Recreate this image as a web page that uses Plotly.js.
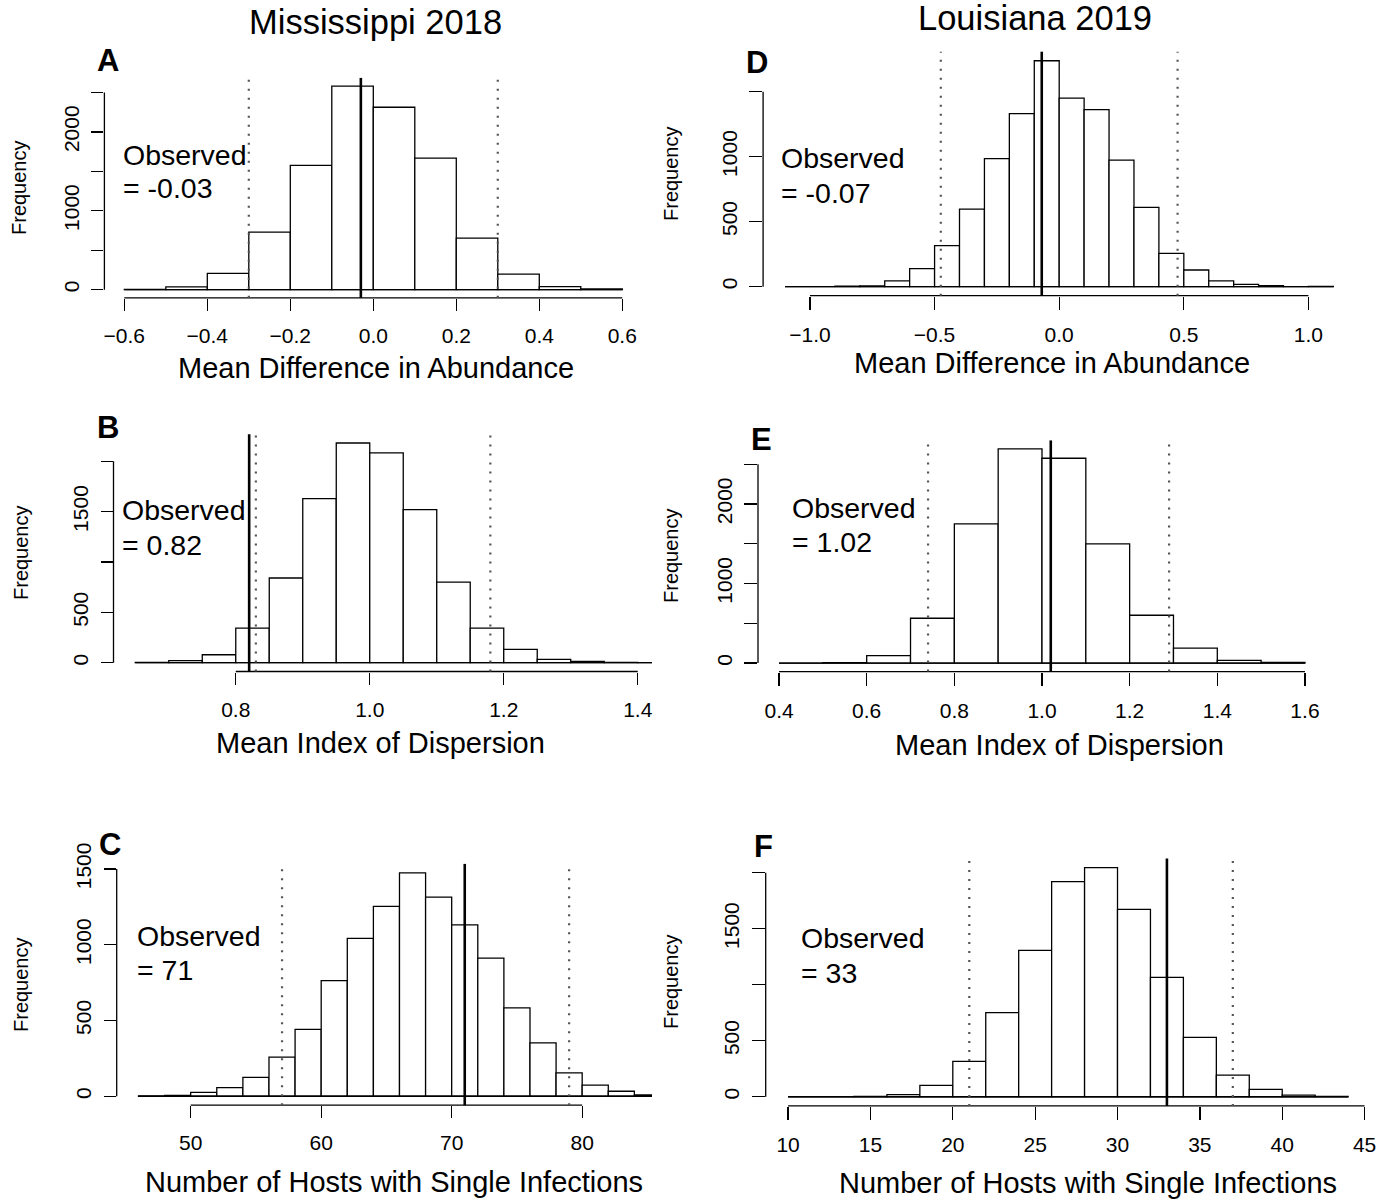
<!DOCTYPE html>
<html><head><meta charset="utf-8">
<script src="https://cdn.plot.ly/plotly-3.0.1.min.js"></script>
<style>html,body{margin:0;padding:0;background:#fff}</style>
</head><body>
<div id="chart" style="width:1390px;height:1200px"></div>
<script>
// ---------------- data ----------------
// A: Mississippi 2018, mean difference in abundance
const breaksA = [-0.6,-0.5,-0.4,-0.3,-0.2,-0.1,0.0,0.1,0.2,0.3,0.4,0.5,0.6];
const countsA = [3,34,206,728,1575,2581,2312,1667,653,198,38,8];
const observedA = -0.03;
const limitsA = [-0.30, 0.30];
const xTicksA = [-0.6,-0.4,-0.2,0,0.2,0.4,0.6];
const xLabelsA = ['\u22120.6','\u22120.4','\u22120.2','0.0','0.2','0.4','0.6'];
const yTicksA = [0,500,1000,1500,2000,2500];
const yLabelsA = ['0','','1000','','2000',''];

// B: Mississippi 2018, mean index of dispersion
const breaksB = [0.65,0.70,0.75,0.80,0.85,0.90,0.95,1.00,1.05,1.10,1.15,1.20,1.25,1.30,1.35,1.40,1.45];
const countsB = [3,20,79,344,841,1629,2182,2083,1520,801,344,132,33,12,3,1];
const observedB = 0.82;
const limitsB = [0.83, 1.18];
const xTicksB = [0.8,1.0,1.2,1.4];
const xLabelsB = ['0.8','1.0','1.2','1.4'];
const yTicksB = [0,500,1000,1500,2000];
const yLabelsB = ['0','500','','1500',''];

// C: Mississippi 2018, number of hosts with single infections
const breaksC = [46,48,50,52,54,56,58,60,62,64,66,68,70,72,74,76,78,80,82,84,86];
const countsC = [2,5,26,57,125,258,442,764,1042,1254,1475,1315,1131,912,584,352,155,74,33,9];
const observedC = 71;
const limitsC = [57, 79];
const xTicksC = [50,60,70,80];
const xLabelsC = ['50','60','70','80'];
const yTicksC = [0,500,1000,1500];
const yLabelsC = ['0','500','1000','1500'];

// D: Louisiana 2019, mean difference in abundance
const breaksD = [-1.1,-1.0,-0.9,-0.8,-0.7,-0.6,-0.5,-0.4,-0.3,-0.2,-0.1,0.0,0.1,0.2,0.3,0.4,0.5,0.6,0.7,0.8,0.9,1.0,1.1];
const countsD = [0,0,3,5,45,138,315,597,985,1331,1738,1451,1362,974,610,256,128,44,18,7,1,2];
const observedD = -0.07;
const limitsD = [-0.475, 0.475];
const xTicksD = [-1.0,-0.5,0,0.5,1.0];
const xLabelsD = ['\u22121.0','\u22120.5','0.0','0.5','1.0'];
const yTicksD = [0,500,1000,1500];
const yLabelsD = ['0','500','1000',''];

// E: Louisiana 2019, mean index of dispersion
const breaksE = [0.4,0.5,0.6,0.7,0.8,0.9,1.0,1.1,1.2,1.3,1.4,1.5,1.6];
const countsE = [0,5,92,563,1749,2692,2575,1498,601,188,33,8];
const observedE = 1.02;
const limitsE = [0.74, 1.29];
const xTicksE = [0.4,0.6,0.8,1.0,1.2,1.4,1.6];
const xLabelsE = ['0.4','0.6','0.8','1.0','1.2','1.4','1.6'];
const yTicksE = [0,500,1000,1500,2000,2500];
const yLabelsE = ['0','','1000','','2000',''];

// F: Louisiana 2019, number of hosts with single infections
const breaksF = [10,12,14,16,18,20,22,24,26,28,30,32,34,36,38,40,42,44];
const countsF = [0,0,3,18,101,315,750,1307,1920,2045,1673,1065,530,193,65,15,2];
const observedF = 33;
const limitsF = [21, 37];
const xTicksF = [10,15,20,25,30,35,40,45];
const xLabelsF = ['10','15','20','25','30','35','40','45'];
const yTicksF = [0,500,1000,1500,2000];
const yLabelsF = ['0','500','','1500',''];

const colTitles = ['Mississippi 2018', 'Louisiana 2019'];
const panelLetters = ['A','B','C','D','E','F'];
const observedLabels = ['= -0.03','= 0.82','= 71','= -0.07','= 1.02','= 33'];
const xTitles = ['Mean Difference in Abundance','Mean Index of Dispersion','Number of Hosts with Single Infections',
                 'Mean Difference in Abundance','Mean Index of Dispersion','Number of Hosts with Single Infections'];

// ---------------- layout / style ----------------
const FONT = 'Liberation Sans, Arial, Helvetica, sans-serif';
const W = 1390, H = 1200;
const LW = 1.3;

const panels = [
  {b:breaksA,c:countsA,o:observedA,l:limitsA,xt:xTicksA,xl:xLabelsA,yt:yTicksA,yl:yLabelsA,
   px:[104.4,642.2], py:[77.9,297.8], xr:[-0.648,0.648], tl:12,
   letter:[108,60], obs:[121,165,198], xtitle:[376,368], freq:[19,188]},
  {b:breaksB,c:countsB,o:observedB,l:limitsB,xt:xTicksB,xl:xLabelsB,yt:yTicksB,yl:yLabelsB,
   px:[113.5,652], py:[434.2,671.5], xr:[0.6175,1.4213], tl:12,
   letter:[108,427], obs:[120,520,555], xtitle:[381,743], freq:[21,553]},
  {b:breaksC,c:countsC,o:observedC,l:limitsC,xt:xTicksC,xl:xLabelsC,yt:yTicksC,yl:yLabelsC,
   px:[116.7,652], py:[863.9,1105.2], xr:[44.33,85.35], tl:12,
   letter:[110,844], obs:[135,946,980], xtitle:[394,1182], freq:[21,985]},
  {b:breaksD,c:countsD,o:observedD,l:limitsD,xt:xTicksD,xl:xLabelsD,yt:yTicksD,yl:yLabelsD,
   px:[763.1,1355.3], py:[51.7,295.7], xr:[-1.188,1.188], tl:13,
   letter:[757,63], obs:[779,168,203], xtitle:[1052,363], freq:[671,174]},
  {b:breaksE,c:countsE,o:observedE,l:limitsE,xt:xTicksE,xl:xLabelsE,yt:yTicksE,yl:yLabelsE,
   px:[758,1326], py:[440.4,671.6], xr:[0.352,1.648], tl:13,
   letter:[761,439], obs:[790,518,552], xtitle:[1059,745], freq:[671,556]},
  {b:breaksF,c:countsF,o:observedF,l:limitsF,xt:xTicksF,xl:xLabelsF,yt:yTicksF,yl:yLabelsF,
   px:[765.7,1370.5], py:[858.5,1105.9], xr:[8.64,45.36], tl:13,
   letter:[764,846], obs:[799,948,983], xtitle:[1088,1183], freq:[671,982]}
];

const data = [];
const layout = {
  width: W, height: H,
  margin: {l:0, r:0, t:0, b:0},
  paper_bgcolor: '#fff', plot_bgcolor: 'rgba(0,0,0,0)',
  showlegend: false, hovermode: false,
  font: {family: FONT, color: '#000'},
  shapes: [], annotations: []
};

const px2x = v => v / W;
const py2y = v => 1 - v / H;

panels.forEach((p, i) => {
  const n = i === 0 ? '' : String(i + 1);
  const xId = 'x' + n, yId = 'y' + n;
  const mids = [], widths = [];
  for (let k = 0; k < p.c.length; k++) {
    mids.push((p.b[k] + p.b[k + 1]) / 2);
    widths.push(p.b[k + 1] - p.b[k]);
  }
  data.push({
    type: 'bar', x: mids, y: p.c, width: widths, xaxis: xId, yaxis: yId,
    marker: {color: '#ffffff', line: {color: '#000', width: LW}},
    hoverinfo: 'skip'
  });
  const ymax = Math.max(...p.c);
  const yr = [-0.04 * ymax, 1.04 * ymax];

  layout['xaxis' + n] = {
    domain: [px2x(p.px[0]), px2x(p.px[1])], range: p.xr, anchor: yId,
    tickmode: 'array', tickvals: p.xt, ticktext: p.xl,
    ticks: 'outside', ticklen: p.tl, tickwidth: LW, tickcolor: '#000',
    showline: false, showgrid: false, zeroline: false, automargin: false,
    tickfont: {family: FONT, size: 21, color: '#000'},
    ticklabelstandoff: 7, fixedrange: true
  };
  layout['yaxis' + n] = {
    domain: [py2y(p.py[1]), py2y(p.py[0])], range: yr, anchor: xId,
    tickmode: 'array', tickvals: p.yt, ticktext: p.yl, tickangle: -90,
    ticks: 'outside', ticklen: p.tl, tickwidth: LW, tickcolor: '#000',
    showline: false, showgrid: false, zeroline: false, automargin: false,
    tickfont: {family: FONT, size: 21, color: '#000'},
    ticklabelstandoff: 4, fixedrange: true
  };

  // histogram baseline
  layout.shapes.push({type:'line', xref:xId, yref:yId, x0:p.b[0], x1:p.b[p.b.length-1], y0:0, y1:0,
    line:{color:'#000', width:LW}});
  // R-style axis lines spanning first..last tick
  layout.shapes.push({type:'line', xref:xId, yref:yId + ' domain', x0:p.xt[0], x1:p.xt[p.xt.length-1], y0:0, y1:0,
    line:{color:'#000', width:LW}});
  layout.shapes.push({type:'line', xref:xId + ' domain', yref:yId, x0:0, x1:0, y0:p.yt[0], y1:p.yt[p.yt.length-1],
    line:{color:'#000', width:LW}});
  // 95% limits (dotted) and observed value (solid)
  p.l.forEach(v => layout.shapes.push({type:'line', xref:xId, yref:yId + ' domain', x0:v, x1:v, y0:0, y1:1,
    line:{color:'#555', width:2.2, dash:'2px,7px'}}));
  layout.shapes.push({type:'line', xref:xId, yref:yId + ' domain', x0:p.o, x1:p.o, y0:0, y1:1,
    line:{color:'#000', width:2.6}});

  // annotations
  layout.annotations.push({xref:'paper', yref:'paper', x:px2x(p.letter[0]), y:py2y(p.letter[1]),
    xanchor:'center', yanchor:'middle', showarrow:false, text:'<b>' + panelLetters[i] + '</b>',
    font:{family:FONT, size:31, color:'#000'}});
  layout.annotations.push({xref:'paper', yref:'paper', x:px2x(p.obs[0]), y:py2y(p.obs[1] - 10),
    xanchor:'left', yanchor:'middle', showarrow:false, text:'Observed',
    font:{family:FONT, size:28.5, color:'#000'}});
  layout.annotations.push({xref:'paper', yref:'paper', x:px2x(p.obs[0]), y:py2y(p.obs[2] - 10),
    xanchor:'left', yanchor:'middle', showarrow:false, text:observedLabels[i],
    font:{family:FONT, size:28.5, color:'#000'}});
  layout.annotations.push({xref:'paper', yref:'paper', x:px2x(p.xtitle[0]), y:py2y(p.xtitle[1]),
    xanchor:'center', yanchor:'middle', showarrow:false, text:xTitles[i],
    font:{family:FONT, size:29, color:'#000'}});
  layout.annotations.push({xref:'paper', yref:'paper', x:px2x(p.freq[0]), y:py2y(p.freq[1]),
    xanchor:'center', yanchor:'middle', showarrow:false, text:'Frequency', textangle:-90,
    font:{family:FONT, size:20, color:'#000'}});
});

layout.annotations.push({xref:'paper', yref:'paper', x:px2x(375), y:py2y(22),
  xanchor:'center', yanchor:'middle', showarrow:false, text:colTitles[0],
  font:{family:FONT, size:34.5, color:'#000'}});
layout.annotations.push({xref:'paper', yref:'paper', x:px2x(1035), y:py2y(18),
  xanchor:'center', yanchor:'middle', showarrow:false, text:colTitles[1],
  font:{family:FONT, size:34.5, color:'#000'}});

Plotly.newPlot('chart', data, layout, {staticPlot: true, displayModeBar: false});
</script>
</body></html>
